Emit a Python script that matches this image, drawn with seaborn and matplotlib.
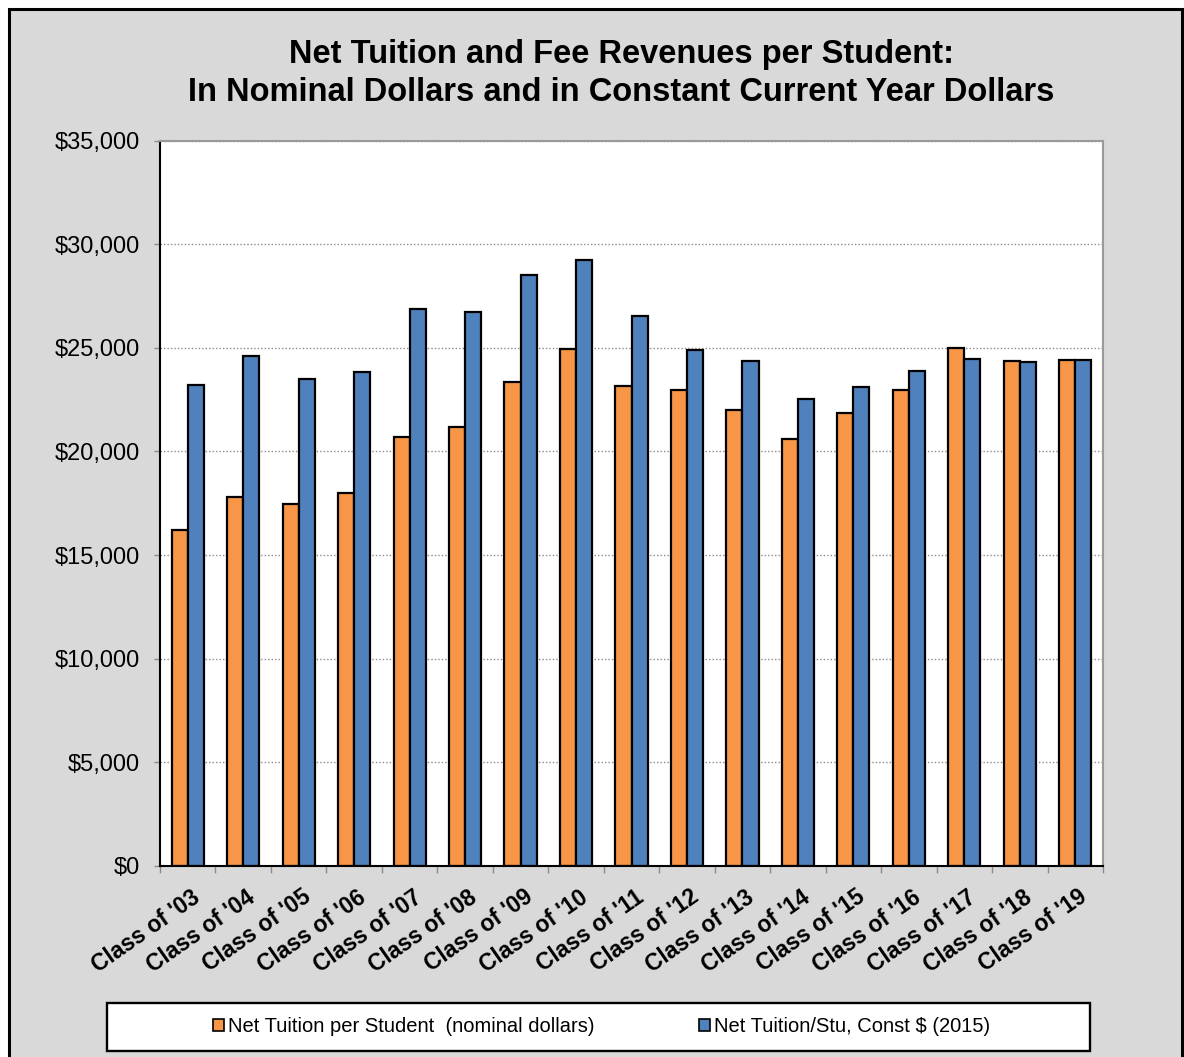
import pandas as pd
import numpy as np
import matplotlib
matplotlib.use("Agg")
import matplotlib.pyplot as plt
import matplotlib.transforms as mtransforms
from matplotlib.patches import Rectangle, Patch
import seaborn as sns

classes = ["Class of '03", "Class of '04", "Class of '05", "Class of '06", "Class of '07",
           "Class of '08", "Class of '09", "Class of '10", "Class of '11", "Class of '12",
           "Class of '13", "Class of '14", "Class of '15", "Class of '16", "Class of '17",
           "Class of '18", "Class of '19"]
nominal = [16200, 17800, 17450, 18000, 20700, 21200, 23350, 24950, 23150, 22950,
           22000, 20600, 21850, 22950, 25000, 24350, 24400]
constant = [23200, 24600, 23500, 23850, 26850, 26750, 28500, 29250, 26550, 24900,
            24350, 22550, 23100, 23900, 24450, 24300, 24400]
series_names = ["Net Tuition per Student  (nominal dollars)", "Net Tuition/Stu, Const $ (2015)"]
colors = ["#F79646", "#4F81BD"]

df = pd.DataFrame({
    "Class": classes * 2,
    "Series": [series_names[0]] * len(classes) + [series_names[1]] * len(classes),
    "Value": nominal + constant,
})

sns.set_theme(style="white")
plt.rcParams["font.family"] = ["Liberation Sans", "DejaVu Sans"]
plt.rcParams["text.color"] = "black"
plt.rcParams["xtick.color"] = "black"
plt.rcParams["ytick.color"] = "black"

W, H = 1184, 1057
fig = plt.figure(figsize=(W / 100, H / 100), dpi=100, facecolor="white")

# grey chart area with black border (bottom edge runs off the picture)
bg = Rectangle((9 / W, -0.05), (1182 - 9) / W, (1 - 9 / H) + 0.05,
               transform=fig.transFigure, facecolor="#D9D9D9", edgecolor="black",
               linewidth=2.2, zorder=-2)
fig.patches.append(bg)

ax = fig.add_axes([160 / W, 1 - 866 / H, (1103 - 160) / W, (866 - 140.5) / H])
ax.set_facecolor("white")

sns.barplot(data=df, x="Class", y="Value", hue="Series", palette=colors,
            width=0.58, edgecolor="black", linewidth=1.6, saturation=1,
            legend=False, ax=ax)

ax.set_ylim(0, 35000)
ax.set_xlim(-0.5, len(classes) - 0.5)
ax.set_xlabel("")
ax.set_ylabel("")
ax.yaxis.set_major_locator(plt.MultipleLocator(5000))
ax.yaxis.set_major_formatter(plt.FuncFormatter(lambda v, p: f"${v:,.0f}"))
ax.yaxis.grid(True, linestyle=(0, (1, 1.5)), color="#8c8c8c", linewidth=1)
ax.set_axisbelow(True)

for s in ["left", "bottom"]:
    ax.spines[s].set_color("black")
    ax.spines[s].set_linewidth(1.5)
for s in ["top", "right"]:
    ax.spines[s].set_color("#9a9a9a")
    ax.spines[s].set_linewidth(1.5)

ax.tick_params(axis="y", which="major", left=True, length=4.5, width=1, color="#8c8c8c",
               pad=10, labelsize=17, labelcolor="black")
ax.set_xticks(np.arange(-0.5, len(classes), 1), minor=True)
ax.tick_params(axis="x", which="minor", bottom=True, length=5, width=1, color="#8c8c8c")
ax.tick_params(axis="x", which="major", bottom=False, length=0, pad=14, labelcolor="black")
offset = mtransforms.ScaledTranslation(3 / 100, 0, fig.dpi_scale_trans)
for lab in ax.get_xticklabels():
    lab.set_rotation(35)
    lab.set_ha("right")
    lab.set_va("top")
    lab.set_rotation_mode("anchor")
    lab.set_fontweight("bold")
    lab.set_fontsize(16.5)
    lab.set_color("black")
    lab.set_transform(lab.get_transform() + offset)

fig.text(0.5245, 1 - 62.7 / H, "Net Tuition and Fee Revenues per Student:",
         ha="center", va="baseline", fontsize=23.5, fontweight="bold", color="black")
fig.text(0.5245, 1 - 101 / H, "In Nominal Dollars and in Constant Current Year Dollars",
         ha="center", va="baseline", fontsize=23.5, fontweight="bold", color="black")

# legend box
fig.patches.append(Rectangle((107 / W, 1 - 1051 / H), (1090 - 107) / W, (1051 - 1003) / H,
                             transform=fig.transFigure, facecolor="white",
                             edgecolor="black", linewidth=1.7, zorder=2))
handles = [Patch(facecolor=c, edgecolor="black", linewidth=1.2) for c in colors]
fig.legend(handles, series_names, loc="center", bbox_to_anchor=(0.5079, 1 - 1027 / H),
           ncol=2, frameon=False, fontsize=14.5, handlelength=0.55, handleheight=0.55,
           handletextpad=0.2, columnspacing=5.2)

plt.savefig("out.png", dpi=100, facecolor="white")
